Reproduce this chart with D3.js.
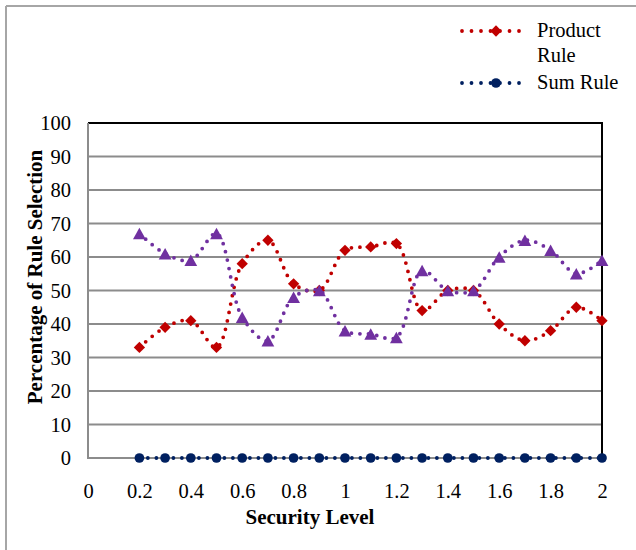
<!DOCTYPE html>
<html>
<head>
<meta charset="utf-8">
<script src="https://cdn.jsdelivr.net/npm/d3@7"></script>
<style>
  body { margin: 0; background: #fff; }
  svg { display: block; }
  svg text { font-family: "Liberation Serif", "Times New Roman", Times, serif; }
</style>
</head>
<body>
<svg id="chart" width="636" height="550"></svg>
<script>
// Security levels on the x axis
const securityLevels = [0.2, 0.3, 0.4, 0.5, 0.6, 0.7, 0.8, 0.9, 1.0, 1.1, 1.2, 1.3, 1.4, 1.5, 1.6, 1.7, 1.8, 1.9, 2.0];
// Percentage of rule selection per series
const productRule = [33, 39, 41, 33, 58, 65, 52, 50, 62, 63, 64, 44, 50, 50, 40, 35, 38, 45, 41];
const thirdRule   = [67, 61, 59, 67, 42, 35, 48, 50, 38, 37, 36, 56, 50, 50, 60, 65, 62, 55, 59];
const sumRule     = [0, 0, 0, 0, 0, 0, 0, 0, 0, 0, 0, 0, 0, 0, 0, 0, 0, 0, 0];
// Axis ticks
const xTicks = [0, 0.2, 0.4, 0.6, 0.8, 1, 1.2, 1.4, 1.6, 1.8, 2];
const yTicks = [0, 10, 20, 30, 40, 50, 60, 70, 80, 90, 100];
const gridValues = [10, 20, 30, 40, 50, 60, 70, 80, 90];

const FONT = '"Liberation Serif", "Times New Roman", Times, serif';
const RED = "#C00000", PURPLE = "#7030A0", NAVY = "#002060";

const svg = d3.select("#chart");
const plot = { left: 88, right: 602, top: 123, bottom: 458 };

const x = d3.scaleLinear().domain([0, 2]).range([plot.left, plot.right]);
const y = d3.scaleLinear().domain([0, 100]).range([plot.bottom, plot.top]);

// Outer frame (top and left edges)
svg.append("line").attr("x1", 6).attr("x2", 636).attr("y1", 6).attr("y2", 6)
  .attr("stroke", "#a6a6a6").attr("stroke-width", 2);
svg.append("line").attr("x1", 6).attr("x2", 6).attr("y1", 6).attr("y2", 550)
  .attr("stroke", "#a6a6a6").attr("stroke-width", 2);

// Horizontal gridlines
svg.append("g").selectAll("line").data(gridValues).join("line")
  .attr("x1", plot.left).attr("x2", plot.right)
  .attr("y1", d => y(d)).attr("y2", d => y(d))
  .attr("stroke", "#8c8c8c").attr("stroke-width", 2);

// Plot area border: black top and right, grey axes on left and bottom
svg.append("line").attr("x1", plot.left).attr("x2", plot.right + 1)
  .attr("y1", plot.top).attr("y2", plot.top).attr("stroke", "#000").attr("stroke-width", 2);
svg.append("line").attr("x1", plot.right).attr("x2", plot.right)
  .attr("y1", plot.top).attr("y2", plot.bottom).attr("stroke", "#000").attr("stroke-width", 2);
svg.append("line").attr("x1", plot.left).attr("x2", plot.left)
  .attr("y1", plot.top).attr("y2", plot.bottom + 1).attr("stroke", "#8c8c8c").attr("stroke-width", 2);
svg.append("line").attr("x1", plot.left).attr("x2", plot.right)
  .attr("y1", plot.bottom).attr("y2", plot.bottom).attr("stroke", "#8c8c8c").attr("stroke-width", 2);

// Axes (labels only)
const yAxis = svg.append("g").attr("transform", `translate(${plot.left},0)`)
  .call(d3.axisLeft(y).tickValues(yTicks).tickSize(0).tickPadding(17).tickFormat(d3.format("d")));
const xAxis = svg.append("g").attr("transform", `translate(0,${plot.bottom})`)
  .call(d3.axisBottom(x).tickValues(xTicks).tickSize(0).tickPadding(25).tickFormat(d => String(d)));
[yAxis, xAxis].forEach(g => {
  g.attr("font-family", null).attr("font-size", null);
  g.select(".domain").remove();
  g.selectAll("text").style("font-family", FONT).style("font-size", "20.5px").attr("fill", "#000");
});

// Axis titles
svg.append("text").attr("transform", "rotate(-90)")
  .attr("x", -277).attr("y", 42).attr("text-anchor", "middle")
  .style("font-family", FONT).style("font-size", "21px").style("font-weight", "bold")
  .text("Percentage of Rule Selection");
svg.append("text").attr("x", 310).attr("y", 524).attr("text-anchor", "middle")
  .style("font-family", FONT).style("font-size", "21px").style("font-weight", "bold")
  .text("Security Level");

// Marker shapes
const diamond = { draw(ctx, size) { const r = Math.sqrt(size / 2); ctx.moveTo(0, -r); ctx.lineTo(r, 0); ctx.lineTo(0, r); ctx.lineTo(-r, 0); ctx.closePath(); } };
const triangle = { draw(ctx, size) { const w = Math.sqrt(size * 2.2), h = w * 0.9; ctx.moveTo(0, -h / 2); ctx.lineTo(w / 2, h / 2); ctx.lineTo(-w / 2, h / 2); ctx.closePath(); } };

const line = d3.line().x(d => x(d[0])).y(d => y(d[1])).curve(d3.curveCatmullRom.alpha(0.5));

function drawSeries(values, color, symbolType, symbolSize) {
  const pts = securityLevels.map((s, i) => [s, values[i]]);
  svg.append("path").datum(pts).attr("d", line)
    .attr("fill", "none").attr("stroke", color).attr("stroke-width", 3.8)
    .attr("stroke-linecap", "round").attr("stroke-dasharray", "0 8.5");
  svg.append("g").selectAll("path").data(pts).join("path")
    .attr("transform", d => `translate(${x(d[0])},${y(d[1])})`)
    .attr("d", d3.symbol().type(symbolType).size(symbolSize))
    .attr("fill", color);
}

drawSeries(productRule, RED, diamond, 64);
drawSeries(thirdRule, PURPLE, triangle, 74);
drawSeries(sumRule, NAVY, d3.symbolCircle, 74);

// Legend
const legendItems = [
  { color: RED, type: diamond, size: 64, lines: ["Product", "Rule"], y: 31 },
  { color: NAVY, type: d3.symbolCircle, size: 74, lines: ["Sum Rule"], y: 83 }
];
legendItems.forEach(item => {
  const g = svg.append("g");
  g.append("line").attr("x1", 462).attr("x2", 528).attr("y1", item.y).attr("y2", item.y)
    .attr("stroke", item.color).attr("stroke-width", 3.8)
    .attr("stroke-linecap", "round").attr("stroke-dasharray", "0 9.5");
  g.append("path").attr("transform", `translate(496,${item.y})`)
    .attr("d", d3.symbol().type(item.type).size(item.size)).attr("fill", item.color);
  item.lines.forEach((t, i) => {
    g.append("text").attr("x", 537).attr("y", item.y + 6 + i * 25)
      .style("font-family", FONT).style("font-size", "20.5px").text(t);
  });
});
</script>
</body>
</html>
